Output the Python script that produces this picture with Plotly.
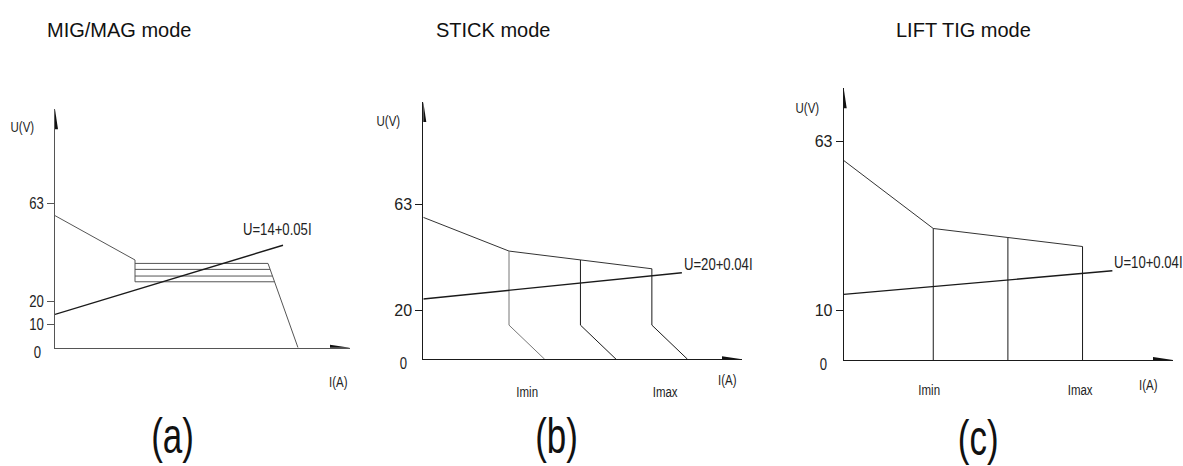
import plotly.graph_objects as go

W, H = 1183, 466
SANS = "Liberation Sans, Arial, sans-serif"

# ---------------- data ----------------
titles = ["MIG/MAG mode", "STICK mode", "LIFT TIG mode"]
panel_tags = ["(a)", "(b)", "(c)"]
equations = ["U=14+0.05I", "U=20+0.04I", "U=10+0.04I"]

# (a) MIG/MAG
a_upper_I = [0, 80]
a_upper_U = [57.5, 38.2]
a_box_left_I = [80, 80]
a_box_left_U = [38.2, 28.7]
a_flat_U = [36.7, 34.1, 31.2, 28.7]
a_flat_start_I = 80
a_flat_end_I = [213, 215, 217.5, 219.5]
a_slant_I = [213, 243]
a_slant_U = [36.7, 0]
a_load_I = [0, 228]
a_load_U = [14.5, 44.6]
a_tick_vals = [10, 20, 63]
a_tick_text = ["10", "20", "63"]

# (b) STICK
b_upper_I = [0, 60, 110, 160]
b_upper_U = [57.7, 44.0, 40.4, 36.8]
b_knee_U = 13.9
b_drop_end_I = [85, 135, 185]
b_load_I = [0, 181]
b_load_U = [24.5, 35.2]
b_tick_vals = [20, 63]
b_tick_text = ["20", "63"]

# (c) LIFT TIG
c_upper_I = [0, 60, 110, 160]
c_upper_U = [57.5, 37.9, 35.3, 32.7]
c_load_I = [0, 180]
c_load_U = [18.9, 25.7]
c_tick_vals = [14.2, 63]
c_tick_text = ["10", "63"]

# ---------------- layout helpers ----------------
def fx(p):
    return p / W

def fy(p):
    return 1 - p / H

panels = [
    dict(ox=55, oy=347.7, xe=350, yt=109.3, xr=295, yr=103.8, ticks=(a_tick_vals, a_tick_text)),
    dict(ox=423.3, oy=359.3, xe=742, yt=102, xr=223.1, yr=104.6, ticks=(b_tick_vals, b_tick_text)),
    dict(ox=843.7, oy=360, xe=1173, yt=88.3, xr=220.6, yr=78.3, ticks=(c_tick_vals, c_tick_text)),
]

fig = go.Figure()
LC = "#1a1a1a"
GC = "#555555"

def add_line(x, y, k, color=LC, width=1.0):
    sfx = "" if k == 0 else str(k + 1)
    fig.add_trace(go.Scatter(x=x, y=y, mode="lines", xaxis="x" + sfx, yaxis="y" + sfx,
                             line=dict(color=color, width=width),
                             hoverinfo="skip", showlegend=False))

# (a)
add_line(a_upper_I, a_upper_U, 0, GC)
add_line(a_box_left_I, a_box_left_U, 0, GC)
fx_, fy_ = [], []
for u, e in zip(a_flat_U, a_flat_end_I):
    fx_ += [a_flat_start_I, e, None]
    fy_ += [u, u, None]
add_line(fx_, fy_, 0, GC)
add_line(a_slant_I, a_slant_U, 0, GC)
add_line(a_load_I, a_load_U, 0, LC, 1.4)

# (b)
add_line(b_upper_I, b_upper_U, 1, "#333333")
for i, e in enumerate(b_drop_end_I):
    add_line([b_upper_I[i + 1], b_upper_I[i + 1], e], [b_upper_U[i + 1], b_knee_U, 0], 1,
             "#777777" if i == 0 else LC)
add_line(b_load_I, b_load_U, 1, LC, 1.4)

# (c)
add_line(c_upper_I, c_upper_U, 2, "#333333")
for i in range(1, len(c_upper_I)):
    add_line([c_upper_I[i], c_upper_I[i]], [c_upper_U[i], 0], 2)
add_line(c_load_I, c_load_U, 2, LC, 1.4)

layout = dict(width=W, height=H, margin=dict(l=0, r=0, t=0, b=0),
              paper_bgcolor="white", plot_bgcolor="white", showlegend=False)
shapes = []
annotations = []
for k, p in enumerate(panels):
    sfx = "" if k == 0 else str(k + 1)
    axc = GC if k == 0 else LC
    layout["xaxis" + sfx] = dict(domain=[fx(p["ox"]), fx(p["xe"])], range=[0, p["xr"]],
                                 anchor="y" + sfx, showgrid=False, zeroline=False,
                                 showline=True, linecolor=axc, linewidth=1,
                                 showticklabels=False, ticks="", fixedrange=True)
    layout["yaxis" + sfx] = dict(domain=[fy(p["oy"]), fy(p["yt"])], range=[0, p["yr"]],
                                 anchor="x" + sfx, showgrid=False, zeroline=False,
                                 showline=True, linecolor=axc, linewidth=1,
                                 ticks="outside", ticklen=7, tickwidth=1, tickcolor=axc,
                                 tickvals=p["ticks"][0], ticktext=p["ticks"][1],
                                 tickfont=dict(family=SANS, size=16, color="#222"),
                                 fixedrange=True)
    shapes.append(dict(type="path", xref="x" + sfx, yref="y" + sfx,
                       xsizemode="pixel", ysizemode="pixel",
                       xanchor=p["xr"], yanchor=0,
                       path="M0,0 L-20,3 L-20,-3 Z", fillcolor="#111", line=dict(width=0)))
    shapes.append(dict(type="path", xref="x" + sfx, yref="y" + sfx,
                       xsizemode="pixel", ysizemode="pixel",
                       xanchor=0, yanchor=p["yr"],
                       path="M0,0 L-3,-20 L3,-20 Z", fillcolor="#111", line=dict(width=0)))

def txt(text, x, y, size, xanchor="center", yanchor="middle", color="#222"):
    align = {"left": "left", "right": "right"}.get(xanchor, "center")
    annotations.append(dict(text=text, x=fx(x), y=fy(y), xref="paper", yref="paper",
                            showarrow=False, xanchor=xanchor, yanchor=yanchor, align=align,
                            borderpad=0,
                            font=dict(family=SANS, size=size, color=color)))

# titles
txt(titles[0], 46, 30, 20, "left", color="#111")
txt(titles[1], 435, 30, 20, "left", color="#111")
txt(titles[2], 895, 30, 20, "left", color="#111")
# panel tags
txt(panel_tags[0], 172, 436, 50, color="#111")
txt(panel_tags[1], 556, 436, 50, color="#111")
txt(panel_tags[2], 978, 438, 50, color="#111")
# axis names
txt("U(V)", 22, 127, 14)
txt("U(V)", 388, 121, 14)
txt("U(V)", 807, 108, 14)
txt("I(A)", 338, 382, 14)
txt("I(A)", 727, 380, 14)
txt("I(A)", 1148, 385, 14)
# zeros
txt("0", 37, 352, 16)
txt("0", 403, 363, 16)
txt("0", 823, 364, 16)
# Imin / Imax
txt("Imin", 527, 392, 14)
txt("Imax", 665, 392, 14)
txt("Imin", 929, 390, 14)
txt("Imax", 1080, 390, 14)
# equations
txt(equations[0], 242, 229, 16, xanchor="left")
txt(equations[1], 683, 264, 16, xanchor="left")
txt(equations[2], 1113, 262, 16, xanchor="left")

layout["shapes"] = shapes
layout["annotations"] = annotations
fig.update_layout(**layout)

# page tweaks: no body margin; condensed look for the small labels (as in the drawing)
post = """
document.body.style.margin = '0';
document.body.style.overflow = 'hidden';
(function(){
  var gd = document.getElementById('{plot_id}');
  function squeeze(){
    if (!gd) return;
    var nodes = gd.querySelectorAll('text.annotation-text, g.ytick text');
    nodes.forEach(function(t){
      if (t.getAttribute('data-sq')) return;
      var fs = parseFloat(t.style.fontSize || '0');
      var s = 1;
      if (fs >= 40) s = 0.7; else if (fs <= 17) s = 0.82;
      if (s === 1) return;
      var b = t.getBBox();
      var anc = t.getAttribute('text-anchor') || 'start';
      var ax = anc === 'middle' ? b.x + b.width / 2 : (anc === 'end' ? b.x + b.width : b.x);
      var old = t.getAttribute('transform') || '';
      t.setAttribute('transform', old + ' translate(' + ax + ',0) scale(' + s + ',1) translate(' + (-ax) + ',0)');
      t.setAttribute('data-sq', '1');
    });
  }
  squeeze();
  setTimeout(squeeze, 30);
  setTimeout(squeeze, 200);
})();
"""
fig.write_html("out.html", post_script=post, config={"displayModeBar": False, "staticPlot": True})
